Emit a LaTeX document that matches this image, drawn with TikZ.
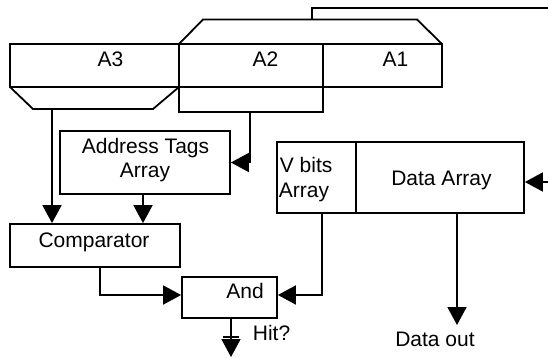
\documentclass[tikz,border=0pt]{standalone}
\usepackage{fontspec}
\setmainfont{Liberation Sans}
\usetikzlibrary{arrows.meta}
\begin{document}
\begin{tikzpicture}[x=1pt,y=-1pt,line width=1.8pt,
  box/.style={draw,rectangle,inner sep=0pt},
  txt/.style={font=\fontsize{21}{24}\selectfont,inner sep=0pt,anchor=base},
  arr/.style={-{Triangle[length=18pt,width=19pt]}}]
\useasboundingbox (0,0) rectangle (548,357);
% address register
\node[box,minimum width=169pt,minimum height=43pt] (A3) at (94.5,65.5) {};
\node[box,minimum width=144pt,minimum height=43pt] (A2) at (251,65.5) {};
\node[box,minimum width=119pt,minimum height=43pt] (A1) at (382.5,65.5) {};
\node[txt] (A3t) at (110.5,66) {A3};
\node[txt] (A2t) at (265.5,66) {A2};
\node[txt] (A1t) at (395.5,66) {A1};
% upper trapezoid over A2 and A1
\draw (179,44) -- (203,19.5) -- (417,19.5) -- (442,44);
% lower trapezoid under A3
\draw (10,87) -- (33,109) -- (153,109) -- (179,87);
% lower bracket under A2
\draw (179,87) -- (179,112) -- (323,112) -- (323,87);
\coordinate (topL) at (312,19.5);
\coordinate (topR) at (548,8);
\coordinate (A3low) at (52,109);
\coordinate (A2low) at (250,112);
\coordinate (rin) at (548,182);
\coordinate (hit) at (231,357);
\coordinate (dout) at (457,325);
% boxes
\node[box,minimum width=170pt,minimum height=63pt] (Addr) at (145,162.5) {};
\node[txt] (Addrt1) at (145.5,153) {Address Tags};
\node[txt] (Addrt2) at (145,177) {Array};
\node[box,minimum width=170pt,minimum height=43pt] (Comp) at (95,245.5) {};
\node[txt] (Compt) at (94,247) {Comparator};
\node[box,minimum width=95pt,minimum height=41pt] (And) at (229.5,297.5) {};
\node[txt] (Andt) at (245,298) {And};
\node[box,minimum width=79pt,minimum height=71pt] (Vbits) at (316.5,177.5) {};
\node[txt,anchor=base west] (Vt1) at (279,172) {V bits};
\node[txt,anchor=base west] (Vt2) at (278,197) {Array};
\node[box,minimum width=168pt,minimum height=71pt] (Data) at (440,177.5) {};
\node[txt] (Datat) at (441.5,185) {Data Array};
\node[txt,anchor=base west] (Hitt) at (252,340) {Hit?};
\node[txt] (Doutt) at (435,346) {Data out};
% connectors
\draw (topL) |- (topR);
\draw[arr] (A3low) -- (A3low |- Comp.north);
\draw[arr] (A2low) |- (Addr.east);
\draw[arr] ([xshift=-2pt]Addr.south) -- ([xshift=-2pt]Addr.south |- Comp.north);
\draw[arr] ([xshift=5pt]Comp.south) |- ([yshift=2.5pt]And.west);
\draw[arr] ([xshift=5.5pt]Vbits.south) |- ([yshift=2.5pt]And.east);
\draw[arr] ([xshift=1.5pt]And.south) -- (hit);
\draw[line width=1.5pt] ([shift={(-8,-20)}]hit) -- ([shift={(8,-20)}]hit);
\draw[arr] ([xshift=17pt]Data.south) -- (dout);
\draw[arr] (rin) -- (rin -| Data.east);
\end{tikzpicture}
\end{document}
